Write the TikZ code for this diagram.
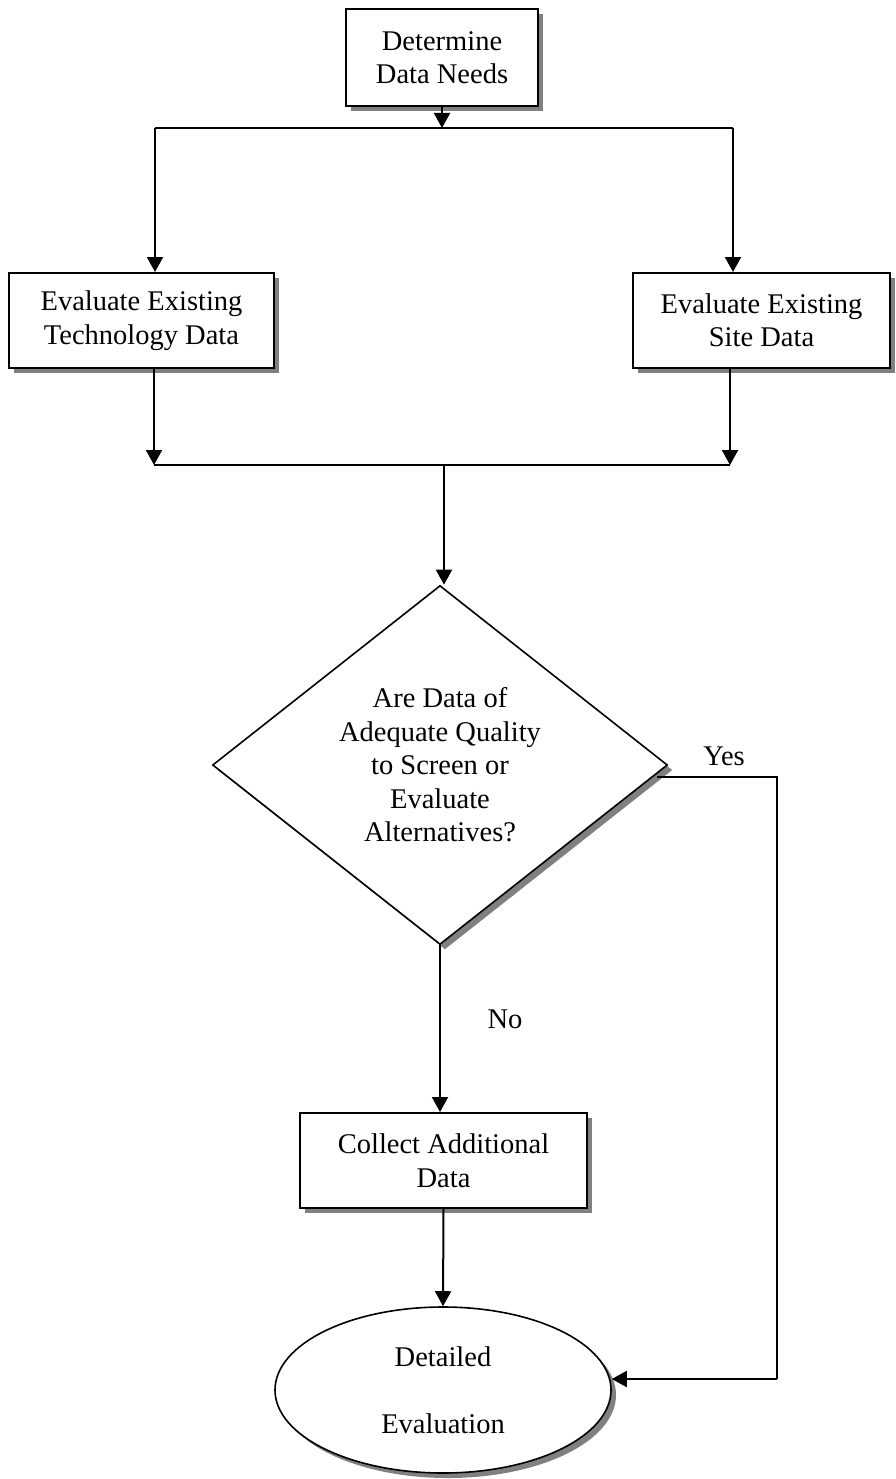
\documentclass[tikz,border=0pt]{standalone}
\usepackage{fontspec}
\setmainfont{Liberation Serif}
\usetikzlibrary{shapes.geometric,shadows,arrows.meta}
\begin{document}
\begin{tikzpicture}[x=1pt,y=-1pt,
  every node/.style={font=\fontsize{28.5}{33.5}\selectfont},
  boxshadow/.style={drop shadow={shadow xshift=5pt,shadow yshift=-5pt,fill=black!50,opacity=1}},
  stepbox/.style={draw,line width=2pt,fill=white,boxshadow,align=center,inner sep=0pt},
  decision/.style={diamond,draw,line width=1.6pt,fill=white,boxshadow,align=center,
    inner sep=0pt,aspect=1.26,minimum width=455pt,minimum height=359pt},
  terminal/.style={ellipse,draw,line width=1.6pt,fill=white,boxshadow,align=center,
    inner sep=0pt,minimum width=336pt,minimum height=166pt},
  link/.style={line width=2pt},
  arr/.style={link,-{Triangle[length=15pt,width=16pt]}},
  tag/.style={anchor=base}
]
\useasboundingbox (0,0) rectangle (895,1479);

% process steps
\node[stepbox,minimum width=192pt,minimum height=97pt] (needs) at (442,57.5)
  {Determine\\Data Needs};
\node[stepbox,minimum width=265pt,minimum height=95pt] (tech) at (141.5,320.5)
  {Evaluate Existing\\Technology Data};
\node[stepbox,minimum width=257pt,minimum height=95pt] (site) at (761.5,320.5)
  {Evaluate Existing\\Site Data};
\node[decision] (quality) at (440,765)
  {Are Data of\\Adequate Quality\\to Screen or\\Evaluate\\Alternatives?};
\node[stepbox,minimum width=287pt,minimum height=95pt] (collect) at (443.5,1160.5)
  {Collect Additional\\Data};
\node[terminal] (eval) at (443,1390) {Detailed\\[33pt]Evaluation};

% branch labels
\node[tag] (yes) at (724,765) {Yes};
\node[tag] (no) at (505,1028) {No};

% junction points
\coordinate (splitC) at (442,128);
\coordinate (splitL) at (155,128);
\coordinate (splitR) at (733,128);
\coordinate (mergeC) at (444,465);
\coordinate (mergeL) at (154,465);
\coordinate (mergeR) at (730,465);
\coordinate (yesStart) at (657,777);
\coordinate (yesTurn) at (777,777);
\coordinate (yesDown) at (777,1379);

% fan out to the two evaluations
\draw[arr] (needs.south) -- (splitC);
\draw[link] (splitL) -- (splitR);
\draw[arr] (splitL) -- (splitL |- tech.north);
\draw[arr] (splitR) -- (splitR |- site.north);

% merge into the decision
\draw[arr] (tech.south -| mergeL) -- (mergeL);
\draw[arr] (site.south -| mergeR) -- (mergeR);
\draw[link] (mergeL) -- (mergeR);
\draw[arr] (mergeC) -- (mergeC |- quality.north);

% decision outcomes
\draw[arr] (quality.south) -- (quality.south |- collect.north);
\draw[arr] (collect.south) -- (eval.north);
\draw[link] (yesStart) -- (yesTurn) -- (yesDown);
\draw[arr] (yesDown) -- (eval.east |- yesDown);
\end{tikzpicture}
\end{document}
